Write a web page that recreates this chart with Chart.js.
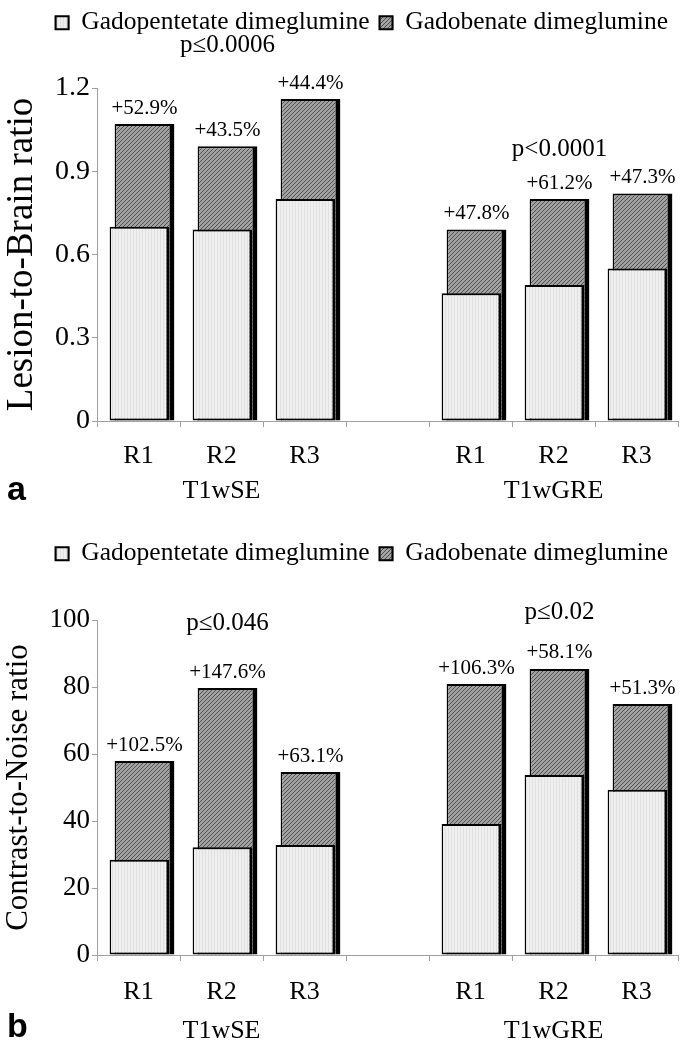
<!DOCTYPE html>
<html>
<head>
<meta charset="utf-8">
<script src="https://cdn.jsdelivr.net/npm/chart.js@4.4.1/dist/chart.umd.min.js"></script>
<style>
  html, body { margin: 0; padding: 0; background: #fff; }
  .panel { position: relative; width: 687px; }
  #pa { height: 520px; }
  #pb { height: 530px; }
</style>
</head>
<body>
<div class="panel" id="pa"><canvas id="chartA"></canvas></div>
<div class="panel" id="pb"><canvas id="chartB"></canvas></div>
<script>
//-------------------------------------------------- Data
const readers = ["R1", "R2", "R3"];
const sequences = ["T1wSE", "T1wGRE"];
const agents = ["Gadopentetate dimeglumine", "Gadobenate dimeglumine"];

// panel a, lesion-to-brain ratio
const lbrPentetate = [0.70, 0.69, 0.80, null, 0.46, 0.49, 0.55];
const lbrBenate = [1.07, 0.99, 1.16, null, 0.69, 0.80, 0.82];
const lbrGain = ["+52.9%", "+43.5%", "+44.4%", "", "+47.8%", "+61.2%", "+47.3%"];
const lbrP = ["p≤0.0006", "p<0.0001"];
const lbrTicks = [0, 0.3, 0.6, 0.9, 1.2];

// panel b, contrast-to-noise ratio
const cnrPentetate = [28.4, 32.2, 32.8, null, 39.1, 53.7, 49.3];
const cnrBenate = [57.9, 79.7, 54.6, null, 80.9, 85.4, 74.9];
const cnrGain = ["+102.5%", "+147.6%", "+63.1%", "", "+106.3%", "+58.1%", "+51.3%"];
const cnrP = ["p≤0.046", "p≤0.02"];
const cnrTicks = [0, 20, 40, 60, 80, 100];
//^^^^^^^^^^^^^^^^^^^^^^^^^^^^^^^^^^^^^^^^^^^^^^^^^^ Data

const SERIF = "'Liberation Serif', 'Times New Roman', serif";

// category labels: R1 R2 R3 | gap | R1 R2 R3, sequence name under R2
const labels = [];
sequences.forEach((s, k) => {
	if (k > 0) labels.push("");
	readers.forEach((r, i) => labels.push([r, i == 1 ? s : ""]));
});

function patternLight() {
	const c = document.createElement("canvas");
	c.width = 3; c.height = 3;
	const g = c.getContext("2d");
	g.fillStyle = "#efefef"; g.fillRect(0, 0, 3, 3);
	g.fillStyle = "#e0e0e0"; g.fillRect(0, 0, 1, 3);
	return g.createPattern(c, "repeat");
}
function patternDark() {
	const c = document.createElement("canvas");
	c.width = 4; c.height = 4;
	const g = c.getContext("2d");
	g.fillStyle = "#a2a2a2"; g.fillRect(0, 0, 4, 4);
	g.fillStyle = "#4f4f4f";
	for (let i = 0; i < 4; i++) g.fillRect(i, 3 - i, 1, 1);
	return g.createPattern(c, "repeat");
}

const SHIFT = [1, 6]; // dark bar sits a little to the right, behind the light one

//-------------------------------------------------- Plugins
const shiftBars = {
	id: "shiftBars",
	beforeDatasetDraw(chart, args) { chart.ctx.save(); chart.ctx.translate(SHIFT[args.index], 0); },
	afterDatasetDraw(chart) { chart.ctx.restore(); }
};

const notes = {
	id: "notes",
	afterDatasetsDraw(chart, args, o) {
		const ctx = chart.ctx;
		const x = chart.scales.x, y = chart.scales.y;
		ctx.save();
		ctx.fillStyle = "#000";
		ctx.textAlign = "center";
		ctx.textBaseline = "middle";
		// gain above each gadobenate bar
		ctx.font = "21px " + SERIF;
		chart.getDatasetMeta(1).data.forEach((bar, i) => {
			if (!o.gain[i]) return;
			ctx.fillText(o.gain[i], bar.x + SHIFT[1], bar.y - 16);
		});
		// p values
		ctx.font = "25px " + SERIF;
		o.p.forEach((t, k) => {
			ctx.fillText(t, x.getPixelForValue(o.pAt[k][0]) + SHIFT[1], y.getPixelForValue(o.pAt[k][1]));
		});
		// panel letter
		ctx.font = "bold 34px 'Liberation Sans', Arial, sans-serif";
		ctx.textAlign = "left";
		ctx.textBaseline = "alphabetic";
		ctx.fillText(o.letter, 7, o.letterY);
		ctx.restore();
	}
};

function fixLegend(h) {
	return {
		id: "legendHeight",
		beforeInit(chart) {
			const fit = chart.legend.fit;
			chart.legend.fit = function () { fit.bind(chart.legend)(); this.height = h; };
		}
	};
}
//^^^^^^^^^^^^^^^^^^^^^^^^^^^^^^^^^^^^^^^^^^^^^^^^^^ Plugins

function drawPanel(id, cfg) {
	new Chart(document.getElementById(id).getContext("2d"), {
		type: "bar",
		data: {
			labels: labels,
			datasets: [
				{
					label: agents[0],
					data: cfg.light,
					backgroundColor: patternLight(),
					borderColor: "#000",
					borderWidth: {top: 2, left: 1.5, right: 3, bottom: 2},
					borderSkipped: false
				},
				{
					label: agents[1],
					data: cfg.dark,
					backgroundColor: patternDark(),
					borderColor: "#000",
					borderWidth: {top: 2, left: 1.5, right: 5, bottom: 0}
				}
			]
		},
		options: {
			responsive: true,
			maintainAspectRatio: false,
			animation: false,
			grouped: false,
			categoryPercentage: 1,
			barPercentage: 0.72,
			layout: {padding: {top: cfg.padTop, right: 9, left: 0, bottom: 0}},
			plugins: {
				tooltip: {enabled: false},
				legend: {
					position: "top",
					align: "end",
					labels: {
						boxWidth: 13, boxHeight: 13, padding: 10, color: "#000",
						font: {family: SERIF, size: 25.5}
					}
				},
				notes: {gain: cfg.gain, p: cfg.p, pAt: cfg.pAt, letter: cfg.letter, letterY: cfg.letterY}
			},
			scales: {
				x: {
					afterFit: s => { s.height = cfg.xHeight; },
					border: {color: "#a0a0a0", width: 1},
					grid: {display: true, offset: true, drawOnChartArea: false, tickLength: 6, color: "#a0a0a0"},
					ticks: {
						color: "#000", padding: 12, maxRotation: 0, autoSkip: false,
						font: {family: SERIF, size: 26, lineHeight: cfg.lineHeight}
					}
				},
				y: {
					min: cfg.ticks[0],
					max: cfg.ticks[cfg.ticks.length - 1],
					afterFit: s => { s.width = 97; },
					afterBuildTicks: s => { s.ticks = cfg.ticks.map(v => ({value: v})); },
					border: {color: "#a0a0a0", width: 1},
					grid: {drawOnChartArea: false, tickLength: 5, color: "#a0a0a0"},
					ticks: {
						color: "#000", padding: 2,
						font: {family: SERIF, size: cfg.tickSize}
					},
					title: {
						display: true, text: cfg.title, color: "#000", padding: 0,
						font: {family: SERIF, size: cfg.titleSize}
					}
				}
			}
		},
		plugins: [shiftBars, notes, fixLegend(cfg.legendH)]
	});
}

drawPanel("chartA", {
	light: lbrPentetate, dark: lbrBenate, gain: lbrGain, p: lbrP,
	pAt: [[1, 1.355], [5, 0.977]],
	ticks: lbrTicks, tickSize: 28, title: "Lesion-to-Brain ratio", titleSize: 37,
	padTop: 0, legendH: 88, xHeight: 99, lineHeight: 1.35,
	letter: "a", letterY: 500
});

drawPanel("chartB", {
	light: cnrPentetate, dark: cnrBenate, gain: cnrGain, p: cnrP,
	pAt: [[1, 99.1], [5, 102.4]],
	ticks: cnrTicks, tickSize: 27, title: "Contrast-to-Noise ratio", titleSize: 31,
	padTop: 11, legendH: 89, xHeight: 95, lineHeight: 1.5,
	letter: "b", letterY: 517
});
</script>
</body>
</html>
